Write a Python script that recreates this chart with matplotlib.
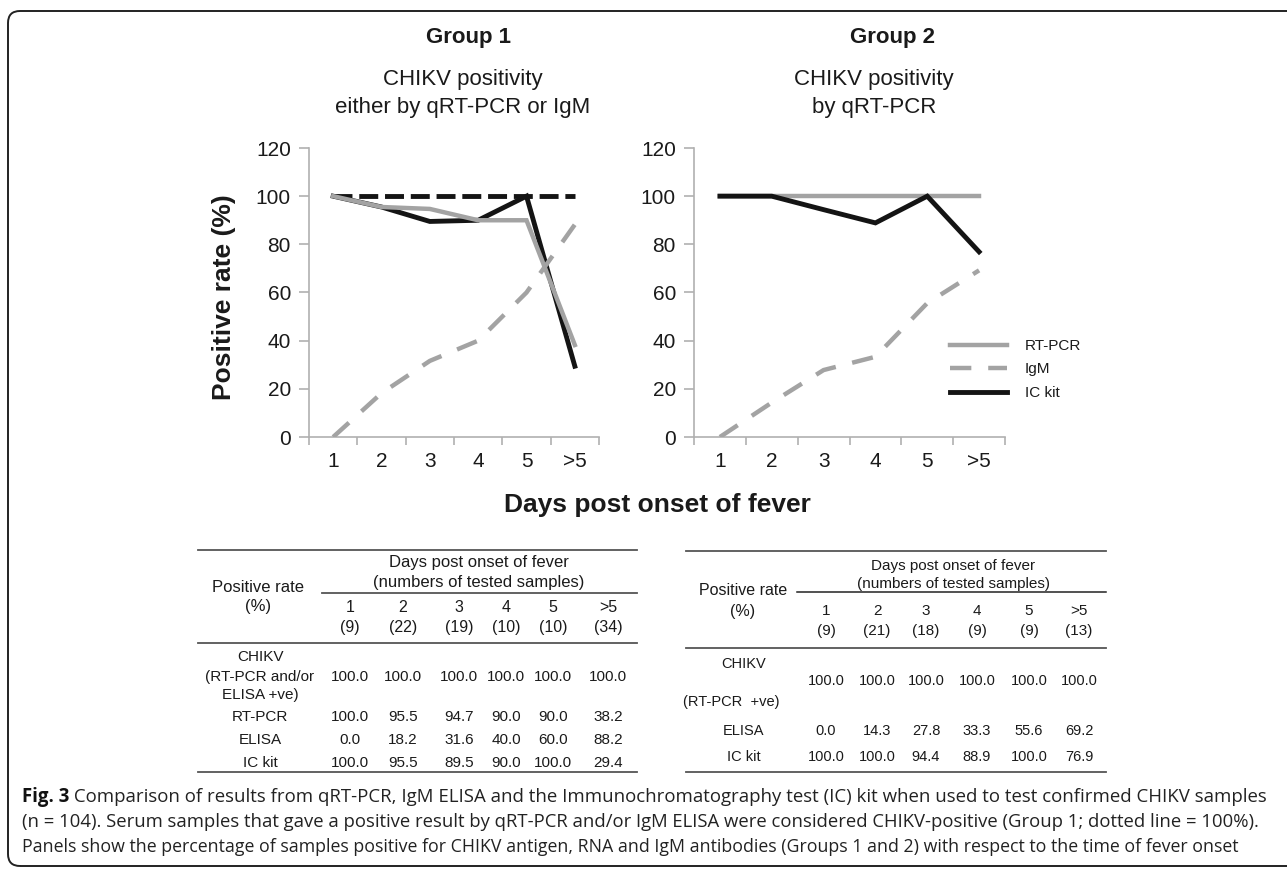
import matplotlib
matplotlib.use("Agg")
import matplotlib.pyplot as plt
from matplotlib import font_manager
from matplotlib.lines import Line2D
from matplotlib.patches import FancyBboxPatch

plt.rcParams['font.family'] = ['Liberation Sans', 'DejaVu Sans']

W, H = 1287, 871

days = ["1", "2", "3", "4", "5", ">5"]
g1_chikv = [100.0, 100.0, 100.0, 100.0, 100.0, 100.0]
g1_rtpcr = [100.0, 95.5, 94.7, 90.0, 90.0, 38.2]
g1_elisa = [0.0, 18.2, 31.6, 40.0, 60.0, 88.2]
g1_ic = [100.0, 95.5, 89.5, 90.0, 100.0, 29.4]
g1_n = [9, 22, 19, 10, 10, 34]

g2_chikv = [100.0, 100.0, 100.0, 100.0, 100.0, 100.0]
g2_rtpcr = [100.0, 100.0, 100.0, 100.0, 100.0, 100.0]
g2_elisa = [0.0, 14.3, 27.8, 33.3, 55.6, 69.2]
g2_ic = [100.0, 100.0, 94.4, 88.9, 100.0, 76.9]
g2_n = [9, 21, 18, 9, 9, 13]

GRAY = '#a3a3a3'
BLACK = '#141414'
SPINE = '#b0b0b0'
TXT = '#1a1a1a'


def fx(x):
    return x / W


def fy(y):
    return 1 - y / H


def hline(x0, x1, y, color='#555555', lw=1.3):
    fig.add_artist(Line2D([fx(x0), fx(x1)], [fy(y), fy(y)], transform=fig.transFigure,
                          color=color, lw=lw))


def txt(x, y, s, size, **kw):
    kw.setdefault('ha', 'center')
    kw.setdefault('va', 'center')
    kw.setdefault('color', TXT)
    return fig.text(fx(x), fy(y), s, fontsize=size, **kw)


fig = plt.figure(figsize=(W / 100, H / 100), dpi=100)

# frame around the figure (right side runs off the image)
fig.add_artist(FancyBboxPatch((8, H - 866), 1320, 855, boxstyle="round,pad=0,rounding_size=12",
                              transform=None, fill=False, ec='#222222', lw=1.4))


def panel(left, width):
    ax = fig.add_axes([fx(left), fy(437), fx(width), (437 - 148) / H])
    ax.set_xlim(0.5, 6.5)
    ax.set_ylim(0, 120)
    ax.set_yticks(range(0, 121, 20))
    ax.set_xticks(range(1, 7))
    ax.set_xticklabels(days)
    ax.set_xticks([i + 0.5 for i in range(7)], minor=True)
    ax.tick_params(axis='x', which='major', length=0, pad=11, labelsize=15, labelcolor=TXT)
    ax.tick_params(axis='x', which='minor', length=5.5, width=1.2, color=SPINE)
    ax.tick_params(axis='y', length=7, width=1.2, color=SPINE, pad=6, labelsize=15, labelcolor=TXT)
    for s in ['top', 'right']:
        ax.spines[s].set_visible(False)
    for s in ['left', 'bottom']:
        ax.spines[s].set_color(SPINE)
        ax.spines[s].set_linewidth(1.2)
    ax.patch.set_alpha(0)
    return ax


x = range(1, 7)

ax1 = panel(309, 290)
ax1.plot(x, g1_chikv, color=BLACK, lw=3.5, dashes=(3.9, 1.4), dash_capstyle='butt', zorder=2)
ax1.plot(x, g1_ic, color=BLACK, lw=3.5, solid_joinstyle='miter', zorder=3)
ax1.plot(x, g1_rtpcr, color=GRAY, lw=3.2, solid_joinstyle='miter', zorder=4)
ax1.plot(x, g1_elisa, color=GRAY, lw=3.2, dashes=(4.8, 3.8), dash_capstyle='butt', zorder=5)

ax2 = panel(694, 311)
l_rt, = ax2.plot(x, g2_rtpcr, color=GRAY, lw=3.2, label='RT-PCR', zorder=2)
l_igm, = ax2.plot(x, g2_elisa, color=GRAY, lw=3.2, dashes=(4.8, 3.8), dash_capstyle='butt',
                  label='IgM', zorder=3)
l_ic, = ax2.plot(x, g2_ic, color=BLACK, lw=3.5, solid_joinstyle='miter', label='IC kit', zorder=4)

fig.legend(handles=[l_rt, l_igm, l_ic], loc='upper left', bbox_to_anchor=(fx(950), fy(339)),
           bbox_transform=fig.transFigure, frameon=False, fontsize=11, handlelength=3.7,
           handletextpad=1.2, labelspacing=0.62, borderpad=0, borderaxespad=0, labelcolor=TXT)

# titles and axis labels
txt(469, 37, "Group 1", 16, fontweight='bold')
txt(463, 80, "CHIKV positivity", 16)
txt(463, 107, "either by qRT-PCR or IgM", 16)
txt(892, 37, "Group 2", 16, fontweight='bold')
txt(874, 80, "CHIKV positivity", 16)
txt(874, 107, "by qRT-PCR", 16)
txt(224, 297, "Positive rate (%)", 19, fontweight='bold', rotation=90)
txt(657, 505, "Days post onset of fever", 19, fontweight='bold')

# table 1
t1_cols = [350, 403, 459, 506, 553, 608]
hline(198, 637, 550)
txt(479, 563, "Days post onset of fever", 12)
txt(479, 583, "(numbers of tested samples)", 12)
hline(322, 637, 593)
txt(258, 587, "Positive rate", 12)
txt(258, 607, "(%)", 12)
for cx, d, n in zip(t1_cols, days, g1_n):
    txt(cx, 607, d, 11.5)
    txt(cx, 627, f"({n})", 11.5)
hline(198, 637, 643)
txt(260, 657, "CHIKV", 11)
txt(260, 677, "(RT-PCR and/or", 11)
txt(260, 695, "ELISA +ve)", 11)
t1_rows = [(677, None, g1_chikv), (717, "RT-PCR", g1_rtpcr), (740, "ELISA", g1_elisa),
           (763, "IC kit", g1_ic)]
for ry, lab, vals in t1_rows:
    if lab:
        txt(260, ry, lab, 11)
    for cx, v in zip(t1_cols, vals):
        txt(cx, ry, f"{v:.1f}", 11)
hline(198, 637, 772)

# table 2
t2_cols = [826, 877, 926, 977, 1029, 1079]
hline(686, 1106, 551)
txt(953, 566, "Days post onset of fever", 11)
txt(953, 584, "(numbers of tested samples)", 11)
hline(797, 1106, 592, color='#222222', lw=1.1)
txt(743, 590, "Positive rate", 11.5)
txt(743, 611, "(%)", 11.5)
for cx, d, n in zip(t2_cols, days, g2_n):
    txt(cx, 611, d, 11)
    txt(cx, 631, f"({n})", 11)
hline(686, 1106, 648)
txt(744, 664, "CHIKV", 10.5)
txt(731, 702, "(RT-PCR  +ve)", 10.5)
t2_rows = [(681, None, g2_chikv), (731, "ELISA", g2_elisa), (757, "IC kit", g2_ic)]
for ry, lab, vals in t2_rows:
    if lab:
        txt(744, ry, lab, 10.5)
    for cx, v in zip(t2_cols, vals):
        txt(cx, ry, f"{v:.1f}", 10.5)
hline(686, 1106, 772)

# caption
names = {f.name for f in font_manager.fontManager.ttflist}
cap_family = 'Liberation Sans Narrow' if 'Liberation Sans Narrow' in names else 'Open Sans'
cap_lines = [
    ("Fig. 3", " Comparison of results from qRT-PCR, IgM ELISA and the Immunochromatography test (IC) kit "
               "when used to test confirmed CHIKV samples", 797, 1265),
    ("", "(n = 104). Serum samples that gave a positive result by qRT-PCR and/or IgM ELISA were considered "
         "CHIKV-positive (Group 1; dotted line = 100%).", 822, 1261),
    ("", "Panels show the percentage of samples positive for CHIKV antigen, RNA and IgM antibodies "
         "(Groups 1 and 2) with respect to the time of fever onset", 847, 1238),
]
renderer = fig.canvas.get_renderer()
for bold, rest, ly, x_end in cap_lines:
    # size each caption line so it ends where the reference line ends
    width10 = 0
    for part, wt in [(bold, 'bold'), (rest, 'normal')]:
        if part:
            probe = fig.text(0, 0, part, fontsize=10, family=cap_family, fontweight=wt)
            width10 += probe.get_window_extent(renderer).width
            probe.remove()
    size = 10 * (x_end - 22) / width10
    x0 = 22
    if bold:
        tb = txt(x0, ly, bold, size, ha='left', family=cap_family, fontweight='bold', color='#111111')
        x0 += tb.get_window_extent(renderer).width
    txt(x0, ly, rest, size, ha='left', family=cap_family, color='#222222')

fig.savefig("out.png", dpi=100)
